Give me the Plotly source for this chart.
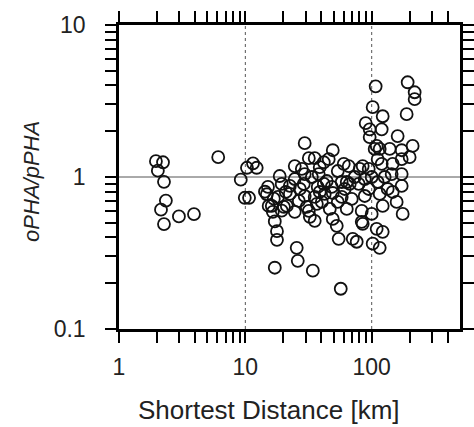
import plotly.graph_objects as go

# Shortest distance [km] and oPHA/pPHA ratio
dist_km = [
    1.96, 2.23, 2.03, 2.27, 2.35, 2.15, 2.27, 2.98, 3.92, 6.1, 9.2, 10.3, 11.5, 12.3, 9.9, 10.7,
    14.3, 15.1, 14.8, 15.3, 16.2, 16.8, 16.5, 17.1, 17.8, 17.8, 17.1, 18.1, 18.7, 19.4, 19.4,
    20.2, 21.3, 22.5, 24.6, 28.0, 24.6, 25.5, 26.0, 26.5,
    29.5, 31.8, 35.4, 29.0, 33.6, 38.1, 29.5, 35.4, 40.3, 31.8, 32.4, 34.2, 41.8, 45.7, 49.2,
    41.8, 48.3, 46.6, 52.9, 54.8, 56.9, 57.9, 57.9, 60.1, 65.8, 63.5, 67.0, 69.5,
    80.4, 94.7, 105.6, 96.4, 78.9, 94.7, 83.4, 100, 83.4, 109.5, 70.8, 76.1, 101.8, 115.7,
    84.9, 122.2, 122.2, 107.5, 101.8, 122.2, 89.7, 96.4, 120, 109.5, 138.8, 115.7, 84.9,
    120, 146.6,
    192.6, 218.8, 218.8, 189.1, 160.5, 172.7, 210.9, 172.7, 199.7, 143.9, 172.7, 146.6,
    172.7, 157.6, 175.9,
    29.5, 44.1, 38.8, 49.2, 30.6, 36.8, 63.5, 35.4, 49.2,
    22.5, 24.6, 27.0, 37.4, 42.5, 53.9, 61.2, 73.4, 88.1, 100, 111.5, 126.7, 133.8, 38.8,
    53.9, 88.1, 115.7, 20.9, 111.5,
]
ratio = [
    1.27, 1.25, 1.10, 0.93, 0.70, 0.61, 0.49, 0.55, 0.57, 1.35, 0.96, 1.15, 1.23, 1.15, 0.73, 0.73,
    0.80, 0.86, 0.77, 0.645, 0.645, 0.72, 0.59, 0.51, 0.44, 0.386, 0.253, 0.74, 1.015, 0.90, 0.60,
    0.636, 0.645, 0.873, 1.18, 1.13, 0.59, 0.342, 0.281, 0.696,
    1.67, 1.33, 1.33, 0.90, 1.0, 1.046, 0.75, 0.739, 0.686, 0.598, 0.547, 0.242, 1.25, 1.31, 1.50,
    0.90, 0.86, 0.617, 0.477, 0.392, 0.184, 0.927, 0.739, 1.22, 1.18, 0.927, 0.90, 0.717,
    1.13, 1.13, 1.53, 1.83, 0.90, 0.834, 0.598, 0.572, 0.507, 0.456, 0.392, 0.375, 0.364, 0.342,
    0.492, 0.436, 0.645, 3.95, 2.88, 2.51, 2.26, 2.06, 2.06, 1.60, 1.53, 1.53, 1.18,
    1.22, 1.22,
    4.20, 3.61, 3.25, 2.59, 1.86, 1.50, 1.60, 1.31, 1.35, 1.046, 1.046, 0.797,
    0.873, 0.686, 0.572,
    1.046, 0.941, 0.797, 0.785, 0.636, 0.665, 0.617, 0.515, 0.530,
    0.774, 0.97, 0.834, 0.86, 0.774, 0.686, 0.834, 1.0, 0.97, 1.0, 0.927, 1.0, 0.834, 1.16,
    1.095, 0.75, 0.774, 0.797, 1.31,
]

x_range_log = [0, 2.699]   # 1 .. 500 km
y_range_log = [-1, 1]      # 0.1 .. 10
x_major = [1, 10, 100]
x_major_text = ["1", "10", "100"]
y_major = [0.1, 1, 10]
y_major_text = ["0.1", "1", "10"]
x_minor = [2, 3, 4, 5, 6, 7, 8, 9, 20, 30, 40, 50, 60, 70, 80, 90, 200, 300, 400]
y_minor = [0.2, 0.3, 0.4, 0.5, 0.6, 0.7, 0.8, 0.9, 2, 3, 4, 5, 6, 7, 8, 9]
x_grid = [10, 100]
y_grid = [1]

font_family = "Liberation Sans, Arial, Helvetica, sans-serif"
text_color = "#222222"

fig = go.Figure(go.Scatter(
    x=dist_km,
    y=ratio,
    mode="markers",
    marker=dict(symbol="circle-open", size=12, color="#111111", line=dict(width=1.8)),
    showlegend=False,
))

axis_common = dict(
    type="log",
    automargin=False,
    showline=True,
    linecolor="black",
    linewidth=2.5,
    mirror="ticks",
    ticks="outside",
    ticklen=11,
    tickwidth=1.5,
    tickcolor="black",
    tickmode="array",
    showgrid=False,
    zeroline=False,
    tickfont=dict(family=font_family, size=23, color=text_color),
)

# every tick (decades labelled, intermediate ones blank) on one array of tick values
fig.update_xaxes(
    **axis_common, range=x_range_log, ticklabelstandoff=5,
    tickvals=x_major + x_minor,
    ticktext=x_major_text + [""] * len(x_minor),
)
fig.update_yaxes(
    **axis_common, range=y_range_log, ticklabelstandoff=15,
    tickvals=y_major + y_minor,
    ticktext=y_major_text + [""] * len(y_minor),
)

# grid lines at the inner decades
for v in x_grid:
    fig.add_shape(type="line", xref="x", yref="paper", x0=v, x1=v, y0=0, y1=1,
                  line=dict(color="#555555", width=1, dash="dot"), layer="below")
for v in y_grid:
    fig.add_shape(type="line", xref="paper", yref="y", x0=0, x1=1, y0=v, y1=v,
                  line=dict(color="#555555", width=1), layer="below")

# axis titles
fig.add_annotation(text="Shortest Distance [km]", xref="paper", yref="paper",
                   x=0.44, y=-0.266, xanchor="center", yanchor="middle", showarrow=False,
                   font=dict(family=font_family, size=26, color=text_color))
fig.add_annotation(text="<i>oPHA/pPHA</i>", xref="paper", yref="paper",
                   x=-0.255, y=0.484, xanchor="center", yanchor="middle", showarrow=False,
                   textangle=-90,
                   font=dict(family=font_family, size=22, color=text_color))

fig.update_layout(
    width=474,
    height=427,
    margin=dict(l=119, r=14, t=25, b=98),
    plot_bgcolor="white",
    paper_bgcolor="white",
)

fig.write_html("out.html")
